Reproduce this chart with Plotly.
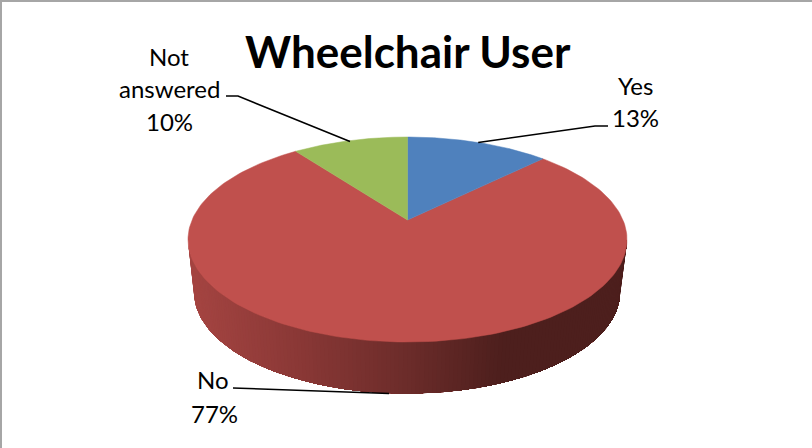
import numpy as np
import plotly.graph_objects as go

categories = ["Yes", "No", "Not answered"]
values = [12.6, 77.2, 10.2]
colors = ["#4F81BD", "#C0504D", "#9BBB59"]
title_text = "Wheelchair User"

W, H = 812, 448
TOP = dict(cx=407.5, cy=239.5, a=219.5, b=102.5)
BASE = dict(cx=407.0, cy=292.0, a=213.0, b=101.5)
K = 0.19  # perspective shift of the pie's centre inside its ellipse


def project(theta, e):
    """Angle clockwise from 12 o'clock on the disc -> pixel on ellipse e."""
    x, y = np.sin(theta), np.cos(theta)
    d = 1 + K * y
    return e["cx"] + e["a"] * x * np.sqrt(1 - K**2) / d, e["cy"] - e["b"] * (y + K) / d


apex_x, apex_y = TOP["cx"], TOP["cy"] - TOP["b"] * K

fig = go.Figure()

# side wall: painted left to right, each band reaching to the wall's right end,
# so neighbouring bands overlap and leave no seams
stops_x = [190, 300, 406, 500, 620]
stops_c = [(166, 69, 66), (138, 56, 54), (108, 44, 42), (77, 31, 29), (77, 31, 29)]
phis = np.linspace(np.pi, 2 * np.pi, 161)
for k in range(len(phis) - 1):
    ph = phis[k:]
    tx = TOP["cx"] + TOP["a"] * np.cos(ph)
    ty = TOP["cy"] - TOP["b"] * np.sin(ph)
    bx = BASE["cx"] + BASE["a"] * np.cos(ph)
    by = BASE["cy"] - BASE["b"] * np.sin(ph)
    xm = (bx[0] + bx[1]) / 2
    c = [np.interp(xm, stops_x, [s[i] for s in stops_c]) for i in range(3)]
    col = f"rgb({c[0]:.0f},{c[1]:.0f},{c[2]:.0f})"
    fig.add_trace(go.Scatter(
        x=np.concatenate([tx, bx[::-1], tx[:1]]), y=np.concatenate([ty, by[::-1], ty[:1]]),
        mode="lines", fill="toself", fillcolor=col, line=dict(color=col, width=0),
        hoverinfo="skip", showlegend=False))

# top face, one wedge per value
fracs = np.array(values) / sum(values)
edges = np.concatenate([[0], np.cumsum(fracs)]) * 2 * np.pi
for i in [1, 0, 2]:
    t = np.linspace(edges[i], edges[i + 1], 200)
    px, py = project(t, TOP)
    fig.add_trace(go.Scatter(
        x=np.concatenate([[apex_x], px, [apex_x]]), y=np.concatenate([[apex_y], py, [apex_y]]),
        mode="lines", fill="toself", fillcolor=colors[i], line=dict(color=colors[i], width=0.5),
        name=categories[i], hoverinfo="name", showlegend=False))

# leader lines
mids = (edges[:-1] + edges[1:]) / 2
yes_xy = project(mids[0], TOP)
no_xy = (389.0, 393.5)
na_xy = project(mids[2], TOP)
leaders = [
    ([yes_xy[0], 595, 608], [yes_xy[1], 126, 126]),
    ([no_xy[0], 245, 233], [no_xy[1], 388, 388]),
    ([na_xy[0], 238, 226], [na_xy[1] + 1, 96, 96]),
]
for lx, ly in leaders:
    fig.add_trace(go.Scatter(x=lx, y=ly, mode="lines", line=dict(color="black", width=1.6),
                             hoverinfo="skip", showlegend=False))

FONT = "Lato, Carlito, Calibri, sans-serif"
label_lines = [
    ("Yes", 635, 85), (f"{values[0]:.0f}%", 635, 117),
    ("No", 213, 379), (f"{values[1]:.0f}%", 214, 413),
    ("Not", 169, 56), ("answered", 169, 88), (f"{values[2]:.0f}%", 169, 121),
]
ann = [dict(x=x, y=y, text=s, showarrow=False, xanchor="center", yanchor="middle",
            font=dict(family=FONT, size=24, color="black")) for s, x, y in label_lines]
ann.append(dict(x=408, y=50.5, text=f"<b>{title_text}</b>", showarrow=False,
                xanchor="center", yanchor="middle",
                font=dict(family=FONT, size=44, color="black")))

border = dict(color="#A6A6A6", width=2)
fig.update_layout(
    width=W, height=H, margin=dict(l=0, r=0, t=0, b=0),
    paper_bgcolor="white", plot_bgcolor="white", showlegend=False,
    xaxis=dict(range=[0, W], visible=False, fixedrange=True),
    yaxis=dict(range=[H, 0], visible=False, fixedrange=True),
    annotations=ann,
    shapes=[
        dict(type="line", x0=0, x1=W, y0=1, y1=1, line=border),
        dict(type="line", x0=1, x1=1, y0=0, y1=H, line=border),
    ],
)
fig.write_html("out.html", config=dict(displayModeBar=False),
               post_script="document.body.style.margin='0';document.documentElement.style.overflow='hidden';")
